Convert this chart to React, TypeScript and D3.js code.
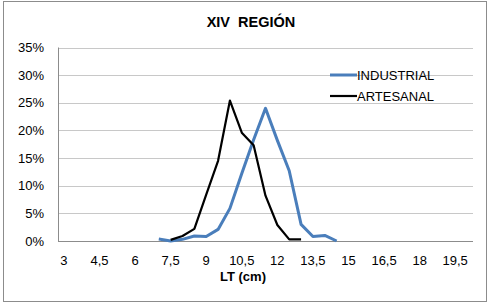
import React from "react";
import * as d3 from "d3";

const lengths = [
  "3", "3,5", "4", "4,5", "5", "5,5", "6", "6,5", "7", "7,5", "8", "8,5",
  "9", "9,5", "10", "10,5", "11", "11,5", "12", "12,5", "13", "13,5", "14",
  "14,5", "15", "15,5", "16", "16,5", "17", "17,5", "18", "18,5", "19",
  "19,5", "20",
];
const tickLabels = ["3", "4,5", "6", "7,5", "9", "10,5", "12", "13,5", "15", "16,5", "18", "19,5"];
const yTicks = [0, 5, 10, 15, 20, 25, 30, 35];

const industrialX = ["7", "7,5", "8", "8,5", "9", "9,5", "10", "10,5", "11", "11,5", "12", "12,5", "13", "13,5", "14", "14,5"];
const industrialY = [0.35, 0, 0.3, 0.9, 0.8, 2.1, 5.9, 12.2, 18.3, 24.0, 18.2, 12.7, 3.0, 0.8, 1.0, 0];

const artesanalX = ["7,5", "8", "8,5", "9", "9,5", "10", "10,5", "11", "11,5", "12", "12,5", "13"];
const artesanalY = [0.2, 0.9, 2.2, 8.4, 14.5, 25.4, 19.6, 17.3, 8.2, 2.9, 0.3, 0.3];

const W = 490;
const H = 307;
const margin = { left: 58, right: 17, top: 47.5, bottom: 66 };
const font = "'Liberation Sans', Arial, sans-serif";

export default function App() {
  const x = d3
    .scalePoint<string>()
    .domain(lengths)
    .range([margin.left, W - margin.right])
    .padding(0.5);
  const y = d3.scaleLinear().domain([0, 35]).range([H - margin.bottom, margin.top]);

  const line = d3
    .line<[string, number]>()
    .x((d) => x(d[0]) as number)
    .y((d) => y(d[1]));

  const series = [
    { name: "INDUSTRIAL", xs: industrialX, ys: industrialY, color: "#4a7ebb", width: 3 },
    { name: "ARTESANAL", xs: artesanalX, ys: artesanalY, color: "#000000", width: 2.2 },
  ];

  return (
    <svg
      width={W}
      height={H}
      style={{ position: "absolute", left: 0, top: 0, background: "#fff" }}
      fontFamily={font}
    >
      <rect x={3.5} y={1.5} width={483} height={300} fill="#fff" stroke="#8c8c8c" strokeWidth={1} />

      <text
        x={251}
        y={27}
        textAnchor="middle"
        fontSize={14.5}
        fontWeight="bold"
        fill="#000"
        style={{ whiteSpace: "pre" }}
      >
        {"XIV  REGIÓN"}
      </text>

      {/* grid */}
      {yTicks.map((t) => (
        <line
          key={t}
          x1={margin.left}
          x2={W - margin.right}
          y1={Math.round(y(t)) + 0.5}
          y2={Math.round(y(t)) + 0.5}
          stroke={t === 0 ? "#8c8c8c" : "#c8c8c8"}
          strokeWidth={1}
        />
      ))}
      <line
        x1={margin.left + 0.5}
        x2={margin.left + 0.5}
        y1={margin.top}
        y2={H - margin.bottom}
        stroke="#8c8c8c"
      />

      {yTicks.map((t) => (
        <text key={t} x={44} y={y(t) + 4.5} textAnchor="end" fontSize={13} fill="#000">
          {t}%
        </text>
      ))}

      {tickLabels.map((t) => (
        <text key={t} x={x(t)} y={265} textAnchor="middle" fontSize={13} fill="#000">
          {t}
        </text>
      ))}

      <text x={243} y={281} textAnchor="middle" fontSize={13} fontWeight="bold" fill="#000">
        LT (cm)
      </text>

      {series.map((s) => (
        <path
          key={s.name}
          d={line(s.xs.map((v, i) => [v, s.ys[i]] as [string, number])) || ""}
          fill="none"
          stroke={s.color}
          strokeWidth={s.width}
          strokeLinejoin="round"
        />
      ))}

      {series.map((s, i) => (
        <g key={s.name} transform={`translate(0, ${75 + i * 21})`}>
          <line x1={330} x2={357} y1={0} y2={0} stroke={s.color} strokeWidth={s.width} />
          <text x={357} y={4.5} fontSize={13} fill="#000">
            {s.name}
          </text>
        </g>
      ))}
    </svg>
  );
}
